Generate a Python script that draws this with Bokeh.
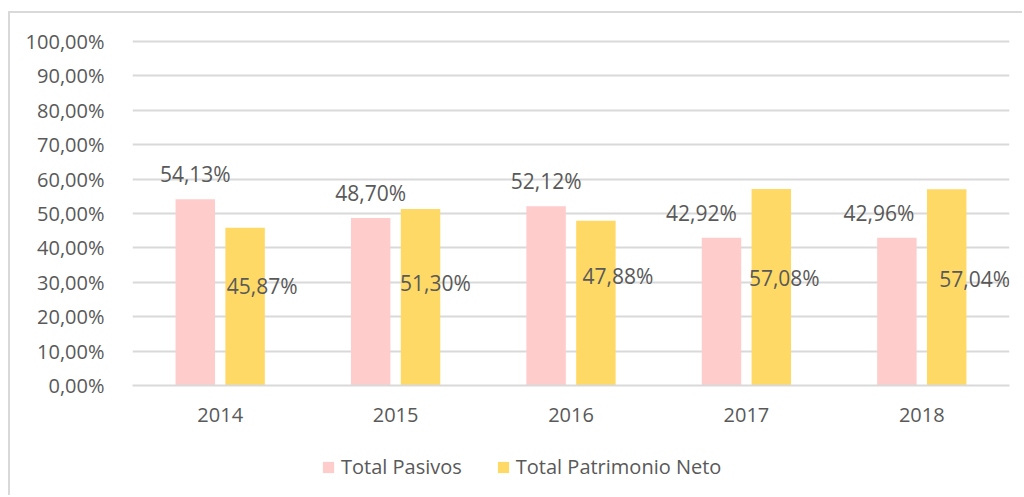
from bokeh.plotting import figure
from bokeh.layouts import column
from bokeh.models import ColumnDataSource, FixedTicker, Legend, LegendItem, Range1d, FactorRange
from bokeh.transform import dodge
from bokeh.core.properties import value
from bokeh.embed import file_html
from bokeh.resources import INLINE

years = ["2014", "2015", "2016", "2017", "2018"]
pasivos = [54.13, 48.70, 52.12, 42.92, 42.96]
patrimonio = [45.87, 51.30, 47.88, 57.08, 57.04]
y_ticks = [0, 10, 20, 30, 40, 50, 60, 70, 80, 90, 100]
y_tick_labels = ["0,00%", "10,00%", "20,00%", "30,00%", "40,00%", "50,00%",
                 "60,00%", "70,00%", "80,00%", "90,00%", "100,00%"]
series_names = ["Total Pasivos", "Total Patrimonio Neto"]
# label anchors for the gold series (in % units)
patrimonio_label_y = [29.0, 29.9, 31.9, 31.3, 31.0]

# label nudges (screen px) as placed in the original
pasivos_dx = [0, 0, 0, -20, -18]
patrimonio_dx = [17, 15, 22, 13, 28]

def fmt(v):
    return ("%.2f" % v).replace(".", ",") + "%"

src = ColumnDataSource(dict(
    year=years, pas=pasivos, pat=patrimonio,
    pas_lbl=[fmt(v) for v in pasivos], pat_lbl=[fmt(v) for v in patrimonio],
    pat_ly=patrimonio_label_y, pas_dx=pasivos_dx, pat_dx=patrimonio_dx,
))

FONT = "Open Sans"
GREY = "#595959"
PINK = "#FFCCCC"
GOLD = "#FFD966"
LINE = "#D9D9D9"

xr = FactorRange(*years, range_padding=0)

p = figure(x_range=xr, y_range=Range1d(0, 102),
           width=1014, height=427, output_backend="svg", toolbar_location=None,
           min_border_left=122, min_border_right=15, min_border_top=21, min_border_bottom=55)
p.margin = (11, 0, 0, 8)
p.styles = {"border-top": "2px solid " + LINE, "border-left": "2px solid " + LINE}
p.outline_line_color = None
p.background_fill_color = "white"
p.border_fill_color = "white"

p.vbar(x=dodge("year", -0.142, range=xr), top="pas", width=0.225,
       source=src, fill_color=PINK, line_color=None)
p.vbar(x=dodge("year", 0.142, range=xr), top="pat", width=0.225,
       source=src, fill_color=GOLD, line_color=None)

p.text(x=dodge("year", -0.142, range=xr), y="pas", text="pas_lbl", source=src,
       x_offset="pas_dx", y_offset=-25, text_align="center", text_baseline="middle",
       text_font=value(FONT), text_font_size="21px", text_color=GREY)
p.text(x=dodge("year", 0.142, range=xr), y="pat_ly", text="pat_lbl", source=src,
       x_offset="pat_dx", text_align="center", text_baseline="middle",
       text_font=value(FONT), text_font_size="21px", text_color=GREY)

p.yaxis.ticker = FixedTicker(ticks=y_ticks)
p.yaxis.major_label_overrides = {t: l for t, l in zip(y_ticks, y_tick_labels)}
p.yaxis.axis_line_color = None
p.yaxis.major_tick_line_color = None
p.yaxis.minor_tick_line_color = None
p.yaxis.major_label_standoff = 22
p.yaxis.major_label_text_font = FONT
p.yaxis.major_label_text_font_size = "20px"
p.yaxis.major_label_text_color = GREY

p.xaxis.axis_line_color = LINE
p.xaxis.axis_line_width = 2
p.xaxis.major_tick_line_color = None
p.xaxis.minor_tick_line_color = None
p.xaxis.major_label_standoff = 16
p.xaxis.major_label_text_font = FONT
p.xaxis.major_label_text_font_size = "20px"
p.xaxis.major_label_text_color = GREY

p.xgrid.grid_line_color = None
p.ygrid.ticker = FixedTicker(ticks=y_ticks)
p.ygrid.grid_line_color = LINE
p.ygrid.grid_line_width = 2

# legend strip below the chart (its bars sit outside its visible range)
lf = figure(x_range=xr, y_range=Range1d(1000, 1001), width=1014, height=57,
            output_backend="svg", toolbar_location=None,
            x_axis_type=None, y_axis_type=None, min_border=0)
lf.margin = (0, 0, 0, 8)
lf.styles = {"border-left": "2px solid " + LINE}
lf.outline_line_color = None
lf.xgrid.grid_line_color = None
lf.ygrid.grid_line_color = None
l1 = lf.vbar(x="year", top="pas", width=0.2, source=src, fill_color=PINK, line_color=None)
l2 = lf.vbar(x="year", top="pat", width=0.2, source=src, fill_color=GOLD, line_color=None)

legend = Legend(items=[LegendItem(label=series_names[0], renderers=[l1]),
                       LegendItem(label=series_names[1], renderers=[l2])],
                orientation="horizontal", location=(189, 15),
                glyph_width=14, glyph_height=14, label_standoff=6, spacing=34,
                padding=0, margin=0, border_line_color=None, background_fill_alpha=0,
                label_text_font=FONT, label_text_font_size="20px", label_text_color=GREY)
lf.add_layout(legend, "center")

layout = column(p, lf, spacing=0)
open("out.html", "w").write(file_html(layout, INLINE))
